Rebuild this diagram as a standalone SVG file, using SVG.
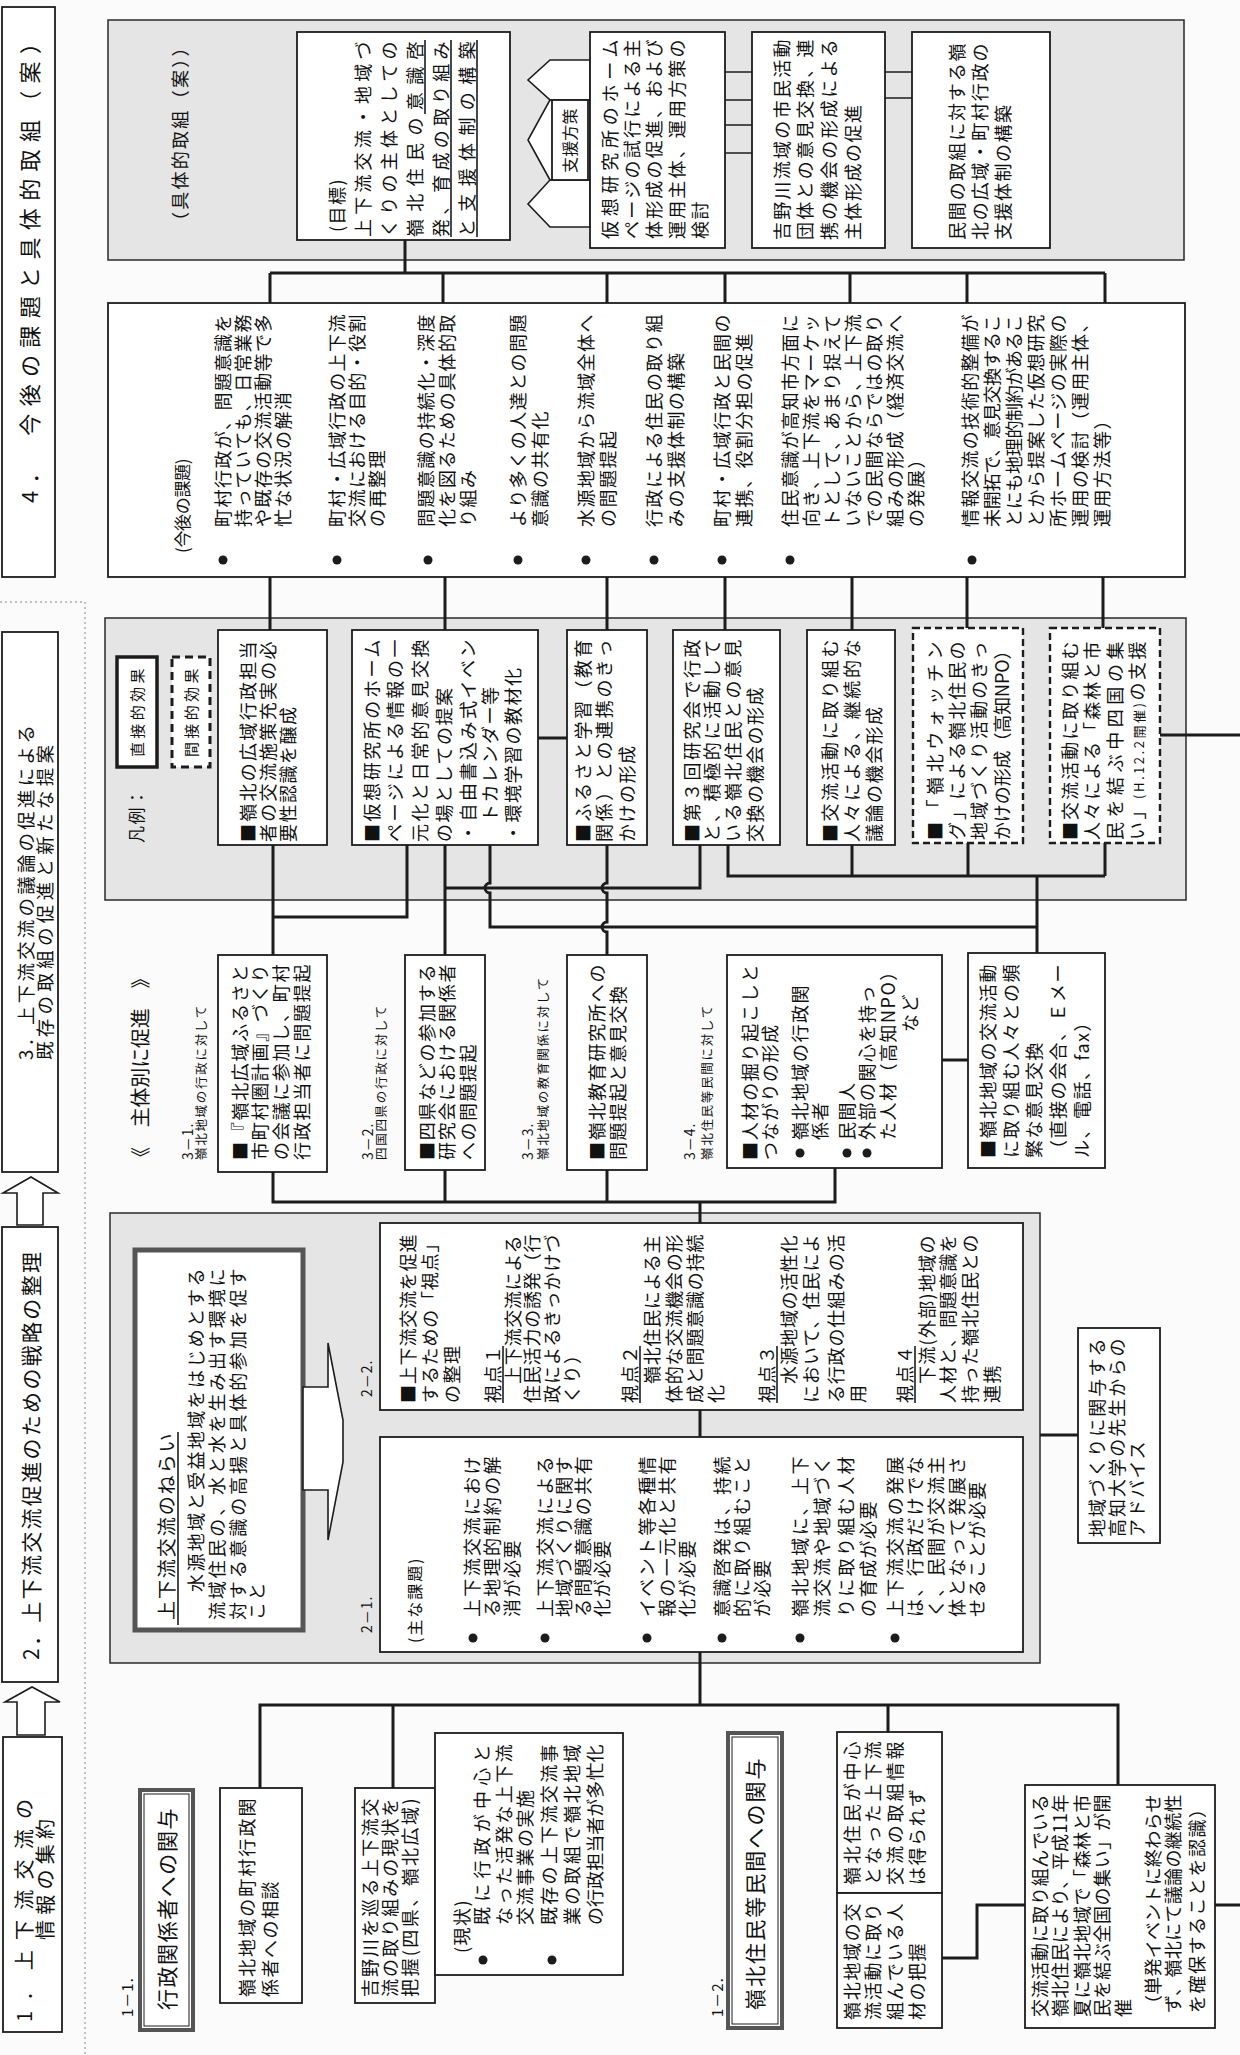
<svg xmlns="http://www.w3.org/2000/svg" width="1240" height="2055" viewBox="0 0 1240 2055">
<defs>
<style>
.bx{fill:#fff;stroke:#1c1c1c;stroke-width:1.8}
.db{fill:#fff;stroke:#1c1c1c;stroke-width:2.4;stroke-dasharray:7 4}
.gr{fill:#e5e5e5;stroke:#2a2a2a;stroke-width:1.5}
.tk{fill:#fff;stroke:#555;stroke-width:5}
.dbl{fill:#fff;stroke:#555;stroke-width:4}
.in{fill:none;stroke:#1c1c1c;stroke-width:1}
.c{fill:none;stroke:#1c1c1c;stroke-width:3}
.ar{fill:#fff;stroke:#1c1c1c;stroke-width:1.6}
.ul{stroke:#1c1c1c;stroke-width:1.6}
.dot{fill:#1c1c1c}
text{font-family:'Noto Sans CJK JP','Noto Sans CJK SC',sans-serif;font-size:18px;letter-spacing:1.5px;fill:#111}
.ti{font-size:21px;letter-spacing:2px}
.sm{font-size:12.5px;letter-spacing:0.8px}
.lb{font-size:14px;letter-spacing:1px}
</style>
</defs>
<rect width="1240" height="2055" fill="#fbfbfb"/>
<path d="M0,602H85V2055" fill="none" stroke="#b0b0b0" stroke-width="1.5" stroke-dasharray="2 3"/>

<!-- regions -->
<rect class="gr" x="108" y="20" width="1076" height="240"/>
<rect class="gr" x="105" y="618" width="1081" height="282"/>
<rect class="gr" x="110" y="1213" width="930" height="450"/>

<!-- titles -->
<g id="title4"><rect class="bx" x="2" y="7" width="53" height="570"/>
<g transform="translate(0 2055) rotate(-90)"><text class="ti" x="1552" y="38" style="font-size:22px" textLength="473">4．　今後の課題と具体的取組（案）</text></g></g>
<g id="title3"><rect class="bx" x="2" y="632" width="56" height="540"/>
<g transform="translate(0 2055) rotate(-90)"><text class="ti" x="995" y="33" style="font-size:18.5px" textLength="337">3．上下流交流の議論の促進による</text><text class="ti" x="995" y="52" style="font-size:18.5px" textLength="317">既存の取組の促進と新たな提案</text></g></g>
<g id="title2"><rect class="bx" x="2" y="1227" width="56" height="455"/>
<g transform="translate(0 2055) rotate(-90)"><text class="ti" x="395" y="39" textLength="410">2．上下流交流促進のための戦略の整理</text></g></g>
<g id="title1"><rect class="bx" x="3" y="1737" width="59" height="295"/>
<g transform="translate(0 2055) rotate(-90)"><text class="ti" x="33" y="32" style="font-size:20px" textLength="225">1．上下流交流の</text><text class="ti" x="115" y="53" style="font-size:20px" textLength="123">情報の集約</text></g></g>
<g id="arrows-titles">
<polygon class="ar" points="17,1225 17,1193 3,1193 31,1177 58,1193 43,1193 43,1225"/>
<polygon class="ar" points="17,1735 17,1702 5,1702 32,1687 60,1702 45,1702 45,1735"/>
</g>

<!-- connectors -->
<g id="connectors" class="c">
<path d="M405,240V273M270,273H1105M270,273V303M443,273V303M607,273V303M725,273V303M850,273V303M967,273V303M1105,273V303"/>
<path d="M270,577V630M445,577V630M607,577V630M725,577V630M852,577V630M967,577V628M1103,577V628"/>
<path d="M538,738H567M1160,735H1240"/>
<path d="M273,845V955M407,845V917H273M445,845V955"/>
<path d="M490,845V883A5,5 0 0 0 490,893V927H1037"/>
<path d="M607,845V883A5,5 0 0 0 607,893V922A5,5 0 0 0 607,932V955"/>
<path d="M700,845V888H445M728,845V876H1105M852,845V876M968,843V876M1105,843V876M1037,876V953"/>
<path d="M942,1060H968"/>
<path d="M273,1172V1202H835V1168M445,1170V1202M607,1170V1202M700,1202V1223"/>
<path d="M700,1410V1437M700,1652V1705M1040,1435H1078"/>
<path d="M260,1788V1705H1118V1785M393,1705V1788M888,1705V1732"/>
<path d="M942,1958H977V1905H1025M1215,1905H1240"/>
</g>
<g id="support-links" fill="none" stroke="#1c1c1c" stroke-width="1.5">
<path d="M725,72H752M725,100H752M725,125H752M725,153H752M885,72H912M885,98H912"/>
</g>

<!-- section 4 -->
<g id="sec4-label"><g transform="translate(0 2055) rotate(-90)"><text x="1825" y="187" textLength="193">（具体的取組（案））</text></g></g>
<g id="goal"><rect class="bx" x="297" y="32" width="213" height="208"/>
<g transform="translate(0 2055) rotate(-90)">
<text x="1823" y="344">(目標)</text>
<text x="1818" y="370" textLength="197">上下流交流・地域づ</text>
<text x="1818" y="396" textLength="197">くりの主体としての</text>
<text x="1818" y="422" textLength="197">嶺北住民の意識啓</text>
<text x="1818" y="448" textLength="197">発、育成の取り組み</text>
<text x="1818" y="474" textLength="197">と支援体制の構築</text>
<path class="ul" d="M1941,425H2015M1818,451H2015M1818,477H2015"/>
</g></g>
<g id="support-arrow">
<polygon class="ar" points="590,60 550,60 528,80 550,100 528,140 550,180 528,204 550,227 590,227"/>
<path d="M550,100H590M550,180H590" stroke="#1c1c1c" stroke-width="1.5"/>
<rect class="bx" x="552" y="100" width="36" height="80"/>
<g transform="translate(0 2055) rotate(-90)"><text x="1882" y="576" style="font-size:16px" textLength="66">支援方策</text></g>
</g>
<g id="support1"><rect class="bx" x="590" y="32" width="135" height="216"/>
<g transform="translate(0 2055) rotate(-90)">
<text x="1816" y="617" textLength="201">仮想研究所のホーム</text>
<text x="1816" y="639" textLength="201">ページの試行による主</text>
<text x="1816" y="661" textLength="201">体形成の促進、および</text>
<text x="1816" y="684" textLength="201">運用主体、運用方策の</text>
<text x="1816" y="707">検討</text>
</g></g>
<g id="support2"><rect class="bx" x="752" y="32" width="133" height="216"/>
<g transform="translate(0 2055) rotate(-90)">
<text x="1815" y="789" textLength="202">吉野川流域の市民活動</text>
<text x="1815" y="812" textLength="202">団体との意見交換、連</text>
<text x="1815" y="836" textLength="202">携の機会の形成による</text>
<text x="1815" y="860">主体形成の促進</text>
</g></g>
<g id="support3"><rect class="bx" x="912" y="32" width="138" height="216"/>
<g transform="translate(0 2055) rotate(-90)">
<text x="1815" y="964" textLength="198">民間の取組に対する嶺</text>
<text x="1815" y="987" textLength="198">北の広域・町村行政の</text>
<text x="1815" y="1010">支援体制の構築</text>
</g></g>

<!-- issues -->
<g id="issues"><rect class="bx" x="108" y="303" width="1077" height="274"/>
<g class="dot"><circle cx="223" cy="560" r="4.5"/><circle cx="337" cy="560" r="4.5"/><circle cx="428" cy="560" r="4.5"/><circle cx="518" cy="560" r="4.5"/><circle cx="586" cy="560" r="4.5"/><circle cx="654" cy="560" r="4.5"/><circle cx="722" cy="560" r="4.5"/><circle cx="790" cy="560" r="4.5"/><circle cx="972" cy="560" r="4.5"/></g>
<g transform="translate(0 2055) rotate(-90)">
<text x="1502" y="189" style="font-size:17px" textLength="96">(今後の課題)</text>
<text x="1528" y="230" textLength="214">町村行政が、問題意識を</text>
<text x="1528" y="250" textLength="214">持っていても、日常業務</text>
<text x="1528" y="270" textLength="214">や既存の交流活動等で多</text>
<text x="1528" y="290">忙な状況の解消</text>
<text x="1528" y="344" textLength="214">町村・広域行政の上下流</text>
<text x="1528" y="364" textLength="214">交流における目的・役割</text>
<text x="1528" y="384">の再整理</text>
<text x="1528" y="433" textLength="214">問題意識の持続化・深度</text>
<text x="1528" y="454" textLength="214">化を図るための具体的取</text>
<text x="1528" y="475">り組み</text>
<text x="1528" y="525" textLength="214">より多くの人達との問題</text>
<text x="1528" y="547">意識の共有化</text>
<text x="1528" y="593" textLength="214">水源地域から流域全体へ</text>
<text x="1528" y="615">の問題提起</text>
<text x="1528" y="661" textLength="214">行政による住民の取り組</text>
<text x="1528" y="683">みの支援体制の構築</text>
<text x="1528" y="729" textLength="214">町村・広域行政と民間の</text>
<text x="1528" y="751">連携、役割分担の促進</text>
<text x="1528" y="797" textLength="214">住民意識が高知市方面に</text>
<text x="1528" y="818" textLength="214">向き、上下流をマーケッ</text>
<text x="1528" y="839" textLength="214">トとして、あまり捉えて</text>
<text x="1528" y="860" textLength="214">いないことから、上下流</text>
<text x="1528" y="881" textLength="214">での民間ならではの取り</text>
<text x="1528" y="902" textLength="214">組みの形成（経済交流へ</text>
<text x="1528" y="923">の発展）</text>
<text x="1528" y="977" textLength="214">情報交流の技術的整備が</text>
<text x="1528" y="999" textLength="214">未開拓で、意見交換するこ</text>
<text x="1528" y="1021" textLength="214">とにも地理的制約があるこ</text>
<text x="1528" y="1043" textLength="214">とから提案した仮想研究</text>
<text x="1528" y="1065" textLength="214">所ホームページの実際の</text>
<text x="1528" y="1087" textLength="214">運用の検討（運用主体、</text>
<text x="1528" y="1109">運用方法等）</text>
</g></g>

<!-- legend -->
<g id="legend">
<rect x="117" y="657" width="40" height="110" fill="#fff" stroke="#1c1c1c" stroke-width="3.5"/>
<rect x="172" y="657" width="38" height="110" fill="#fff" stroke="#1c1c1c" stroke-width="3" stroke-dasharray="8 5"/>
<g transform="translate(0 2055) rotate(-90)">
<text x="1212" y="143" style="font-size:17px">凡例：</text>
<text x="1298" y="143" style="font-size:15px" textLength="90">直接的効果</text>
<text x="1298" y="197" style="font-size:15px" textLength="90">間接的効果</text>
</g></g>

<!-- results -->
<g id="resA"><rect class="bx" x="218" y="630" width="109" height="215"/>
<g transform="translate(0 2055) rotate(-90)">
<text x="1213" y="255" textLength="202">■嶺北の広域行政担当</text>
<text x="1213" y="275" textLength="202">者の交流施策充実の必</text>
<text x="1213" y="295">要性認識を醸成</text>
</g></g>
<g id="resB"><rect class="bx" x="352" y="630" width="186" height="215"/>
<g transform="translate(0 2055) rotate(-90)">
<text x="1213" y="379" textLength="204">■仮想研究所のホーム</text>
<text x="1213" y="402" textLength="204">ページによる情報の一</text>
<text x="1213" y="427" textLength="204">元化と日常的意見交換</text>
<text x="1213" y="451">の場としての提案</text>
<text x="1213" y="475" textLength="204">・自由書込み式イベン</text>
<text x="1233" y="497">トカレンダー等</text>
<text x="1213" y="520">・環境学習の教材化</text>
</g></g>
<g id="resC"><rect class="bx" x="567" y="630" width="80" height="215"/>
<g transform="translate(0 2055) rotate(-90)">
<text x="1213" y="590" textLength="204">■ふるさと学習（教育</text>
<text x="1213" y="611" textLength="204">関係）との連携のきっ</text>
<text x="1213" y="634">かけの形成</text>
</g></g>
<g id="resD"><rect class="bx" x="673" y="630" width="107" height="215"/>
<g transform="translate(0 2055) rotate(-90)">
<text x="1213" y="699" textLength="204">■第３回研究会で行政</text>
<text x="1213" y="719" textLength="204">と、積極的に活動して</text>
<text x="1213" y="740" textLength="204">いる嶺北住民との意見</text>
<text x="1213" y="762">交換の機会の形成</text>
</g></g>
<g id="resE"><rect class="bx" x="807" y="630" width="88" height="215"/>
<g transform="translate(0 2055) rotate(-90)">
<text x="1213" y="837" textLength="204">■交流活動に取り組む</text>
<text x="1213" y="859" textLength="204">人々による、継続的な</text>
<text x="1213" y="881">議論の機会形成</text>
</g></g>
<g id="resF"><rect class="db" x="913" y="628" width="110" height="215"/>
<g transform="translate(0 2055) rotate(-90)">
<text x="1215" y="942" textLength="200">■「嶺北ウォッチン</text>
<text x="1215" y="964" textLength="200">グ」による嶺北住民の</text>
<text x="1215" y="986" textLength="200">地域づくり活動のきっ</text>
<text x="1215" y="1009" textLength="200">かけの形成（高知NPO）</text>
</g></g>
<g id="resG"><rect class="db" x="1050" y="628" width="110" height="215"/>
<g transform="translate(0 2055) rotate(-90)">
<text x="1215" y="1077" textLength="200">■交流活動に取り組む</text>
<text x="1215" y="1099" textLength="200">人々による「森林と市</text>
<text x="1215" y="1122" textLength="200">民を結ぶ中四国の集</text>
<text x="1215" y="1144" textLength="200">い」<tspan style="font-size:13px">(H.12.2開催)</tspan>の支援</text>
</g></g>

<!-- section 3 -->
<g id="sec3-labels"><g transform="translate(0 2055) rotate(-90)">
<text x="888" y="148" style="font-size:20px" textLength="200">《　主体別に促進　》</text>
<text class="lb" x="895" y="193">3－1.</text>
<text class="sm" x="895" y="206" textLength="155">嶺北地域の行政に対して</text>
<text class="lb" x="895" y="373">3－2.</text>
<text class="sm" x="895" y="386" textLength="155">四国四県の行政に対して</text>
<text class="lb" x="895" y="533">3－3.</text>
<text class="sm" x="895" y="548" textLength="183">嶺北地域の教育関係に対して</text>
<text class="lb" x="895" y="695">3－4.</text>
<text class="sm" x="895" y="712" textLength="155">嶺北住民等民間に対して</text>
</g></g>
<g id="s31"><rect class="bx" x="218" y="955" width="109" height="217"/>
<g transform="translate(0 2055) rotate(-90)">
<text x="895" y="247" textLength="197">■『嶺北広域ふるさと</text>
<text x="895" y="267" textLength="197">市町村圏計画』づくり</text>
<text x="895" y="288" textLength="197">の会議に参加し、町村</text>
<text x="895" y="309" textLength="197">行政担当者に問題提起</text>
</g></g>
<g id="s32"><rect class="bx" x="405" y="955" width="80" height="215"/>
<g transform="translate(0 2055) rotate(-90)">
<text x="895" y="434" textLength="197">■四県などの参加する</text>
<text x="895" y="454" textLength="197">研究会における関係者</text>
<text x="895" y="475">への問題提起</text>
</g></g>
<g id="s33"><rect class="bx" x="567" y="955" width="80" height="215"/>
<g transform="translate(0 2055) rotate(-90)">
<text x="895" y="604" textLength="197">■嶺北教育研究所への</text>
<text x="895" y="625">問題提起と意見交換</text>
</g></g>
<g id="s34a"><rect class="bx" x="727" y="955" width="215" height="213"/>
<g class="dot"><circle cx="800" cy="1153" r="4.5"/><circle cx="847" cy="1153" r="4.5"/><circle cx="867" cy="1153" r="4.5"/></g>
<g transform="translate(0 2055) rotate(-90)">
<text x="895" y="757" textLength="197">■人材の掘り起こしと</text>
<text x="895" y="777">つながりの形成</text>
<text x="915" y="807">嶺北地域の行政関</text>
<text x="915" y="827">係者</text>
<text x="915" y="854">民間人</text>
<text x="915" y="874">外部の関心を持っ</text>
<text x="915" y="895">た人材（高知NPO）</text>
<text x="1023" y="917">など</text>
</g></g>
<g id="s34b"><rect class="bx" x="968" y="953" width="137" height="215"/>
<g transform="translate(0 2055) rotate(-90)">
<text x="897" y="995" textLength="195">■嶺北地域の交流活動</text>
<text x="897" y="1018" textLength="195">に取り組む人々との頻</text>
<text x="897" y="1041">繁な意見交換</text>
<text x="897" y="1065" textLength="195">（直接の会合、Ｅメー</text>
<text x="897" y="1089">ル、電話、fax）</text>
</g></g>

<!-- section 2 -->
<g id="nerai"><rect class="tk" x="135" y="1250" width="168" height="380"/>
<g transform="translate(0 2055) rotate(-90)">
<text x="435" y="174" style="font-size:19px" textLength="188">上下流交流のねらい</text>
<path class="ul" d="M430,178H623"/>
<text x="463" y="203" textLength="325">水源地域と受益地域をはじめとする</text>
<text x="435" y="224" textLength="353">流域住民の、水と水を生み出す環境に</text>
<text x="435" y="245" textLength="353">対する意識の高揚と具体的参加を促す</text>
<text x="435" y="264">こと</text>
</g></g>
<g id="big-arrow"><polygon class="ar" points="303,1387 328,1387 328,1343 343,1420 343,1462 328,1540 328,1490 303,1490"/></g>
<g id="s22"><rect class="bx" x="380" y="1223" width="643" height="187"/>
<g transform="translate(0 2055) rotate(-90)">
<text class="lb" x="658" y="372">2－2.</text>
<text x="652" y="415" textLength="170">■上下流交流を促進</text>
<text x="652" y="437" textLength="170">するための「視点」</text>
<text x="652" y="459">の整理</text>
<text x="652" y="500">視点１</text><path class="ul" d="M652,503H709"/>
<text x="671" y="520" textLength="150">上下流交流による</text>
<text x="652" y="539" textLength="170">住民活力の誘発（行</text>
<text x="652" y="559" textLength="170">政によるきっかけづ</text>
<text x="652" y="579">くり）</text>
<text x="652" y="637">視点２</text><path class="ul" d="M652,640H709"/>
<text x="671" y="659" textLength="150">嶺北住民による主</text>
<text x="652" y="681" textLength="170">体的な交流機会の形</text>
<text x="652" y="702" textLength="170">成と問題意識の持続</text>
<text x="652" y="723">化</text>
<text x="652" y="774">視点３</text><path class="ul" d="M652,777H709"/>
<text x="671" y="796" textLength="150">水源地域の活性化</text>
<text x="652" y="818" textLength="170">において、住民によ</text>
<text x="652" y="843" textLength="170">る行政の仕組みの活</text>
<text x="652" y="865">用</text>
<text x="652" y="912">視点４</text><path class="ul" d="M652,915H709"/>
<text x="671" y="934" textLength="150">下流(外部)地域の</text>
<text x="652" y="955" textLength="170">人材と、問題意識を</text>
<text x="652" y="977" textLength="170">持った嶺北住民との</text>
<text x="652" y="999">連携</text>
</g></g>
<g id="s21"><rect class="bx" x="380" y="1437" width="643" height="215"/>
<g class="dot"><circle cx="473" cy="1638" r="4.5"/><circle cx="545" cy="1638" r="4.5"/><circle cx="647" cy="1638" r="4.5"/><circle cx="722" cy="1638" r="4.5"/><circle cx="800" cy="1638" r="4.5"/><circle cx="895" cy="1638" r="4.5"/></g>
<g transform="translate(0 2055) rotate(-90)">
<text class="lb" x="422" y="372">2－1.</text>
<text x="412" y="421" style="font-size:16px" textLength="86">(主な課題)</text>
<text x="438" y="479" textLength="162">上下流交流におけ</text>
<text x="438" y="499" textLength="162">る地理的制約の解</text>
<text x="438" y="519">消が必要</text>
<text x="438" y="552" textLength="162">上下流交流による</text>
<text x="438" y="571" textLength="162">地域づくりに関す</text>
<text x="438" y="590" textLength="162">る問題意識の共有</text>
<text x="438" y="609">化が必要</text>
<text x="438" y="654" textLength="162">イベント等各種情</text>
<text x="438" y="674" textLength="162">報の一元化と共有</text>
<text x="438" y="694">化が必要</text>
<text x="438" y="729" textLength="162">意識啓発は、持続</text>
<text x="438" y="749" textLength="162">的に取り組むこと</text>
<text x="438" y="769">が必要</text>
<text x="438" y="807" textLength="162">嶺北地域に、上下</text>
<text x="438" y="829" textLength="162">流交流や地域づく</text>
<text x="438" y="853" textLength="162">りに取り組む人材</text>
<text x="438" y="875">の育成が必要</text>
<text x="438" y="902" textLength="162">上下流交流の発展</text>
<text x="438" y="922" textLength="162">は、行政だけでな</text>
<text x="438" y="943" textLength="162">く、民間が交流主</text>
<text x="438" y="964" textLength="162">体となって発展さ</text>
<text x="438" y="984">せることが必要</text>
</g></g>
<g id="advice"><rect class="bx" x="1078" y="1328" width="82" height="215"/>
<g transform="translate(0 2055) rotate(-90)">
<text x="518" y="1104" textLength="200">地域づくりに関与する</text>
<text x="518" y="1124" textLength="200">高知大学の先生からの</text>
<text x="518" y="1144">アドバイス</text>
</g></g>

<!-- section 1 -->
<g id="s11"><rect class="dbl" x="140" y="1790" width="53" height="240"/><rect class="in" x="144" y="1794" width="45" height="232"/>
<g transform="translate(0 2055) rotate(-90)">
<text class="lb" x="38" y="133" style="font-size:15px">1－1.</text>
<text x="45" y="175" style="font-size:21px" textLength="203">行政関係者への関与</text>
</g></g>
<g id="n-choson"><rect class="bx" x="220" y="1788" width="82" height="215"/>
<g transform="translate(0 2055) rotate(-90)">
<text x="58" y="254" textLength="200">嶺北地域の町村行政関</text>
<text x="58" y="277">係者への相談</text>
</g></g>
<g id="n-yoshino"><rect class="bx" x="355" y="1788" width="80" height="215"/>
<g transform="translate(0 2055) rotate(-90)">
<text x="58" y="377" textLength="200">吉野川を巡る上下流交</text>
<text x="58" y="397" textLength="200">流の取り組みの現状を</text>
<text x="58" y="417" textLength="200">把握(四県、嶺北広域)</text>
</g></g>
<g id="n-genjo"><rect class="bx" x="435" y="1733" width="188" height="242"/>
<g class="dot"><circle cx="483" cy="1960" r="4.5"/><circle cx="552" cy="1960" r="4.5"/></g>
<g transform="translate(0 2055) rotate(-90)">
<text x="102" y="469">(現状)</text>
<text x="130" y="489" textLength="182">既に行政が中心と</text>
<text x="130" y="511" textLength="182">なった活発な上下流</text>
<text x="130" y="532">交流事業の実施</text>
<text x="130" y="556" textLength="182">既存の上下流交流事</text>
<text x="130" y="579" textLength="182">業の取組で嶺北地域</text>
<text x="130" y="602" textLength="182">の行政担当者が多忙化</text>
</g></g>
<g id="s12"><rect class="dbl" x="728" y="1733" width="54" height="295"/><rect class="in" x="732" y="1737" width="46" height="287"/>
<g transform="translate(0 2055) rotate(-90)">
<text class="lb" x="38" y="723" style="font-size:15px">1－2.</text>
<text x="45" y="763" style="font-size:21px" textLength="253">嶺北住民等民間への関与</text>
</g></g>
<g id="n-chushin"><rect class="bx" x="837" y="1732" width="105" height="161"/>
<g transform="translate(0 2055) rotate(-90)">
<text x="170" y="859" textLength="145">嶺北住民が中心</text>
<text x="170" y="880" textLength="145">となった上下流</text>
<text x="170" y="902" textLength="145">交流の取組情報</text>
<text x="170" y="924">は得られず</text>
</g></g>
<g id="n-jinzai"><rect class="bx" x="837" y="1893" width="105" height="135"/>
<g transform="translate(0 2055) rotate(-90)">
<text x="35" y="859" textLength="118">嶺北地域の交</text>
<text x="35" y="880" textLength="118">流活動に取り</text>
<text x="35" y="902" textLength="118">組んでいる人</text>
<text x="35" y="924">材の把握</text>
</g></g>
<g id="n-tsudoi"><rect class="bx" x="1025" y="1785" width="190" height="243"/>
<g transform="translate(0 2055) rotate(-90)">
<text x="38" y="1047" textLength="224">交流活動に取り組んでいる</text>
<text x="38" y="1067" textLength="224">嶺北住民により、平成11年</text>
<text x="38" y="1089" textLength="224">夏に嶺北地域で「森林と市</text>
<text x="38" y="1109" textLength="224">民を結ぶ全国の集い」が開</text>
<text x="38" y="1130">催</text>
<text x="42" y="1160" textLength="220">（単発イベントに終わらせ</text>
<text x="42" y="1180" textLength="220">ず、嶺北にて議論の継続性</text>
<text x="42" y="1204">を確保することを認識）</text>
</g></g>
</svg>
